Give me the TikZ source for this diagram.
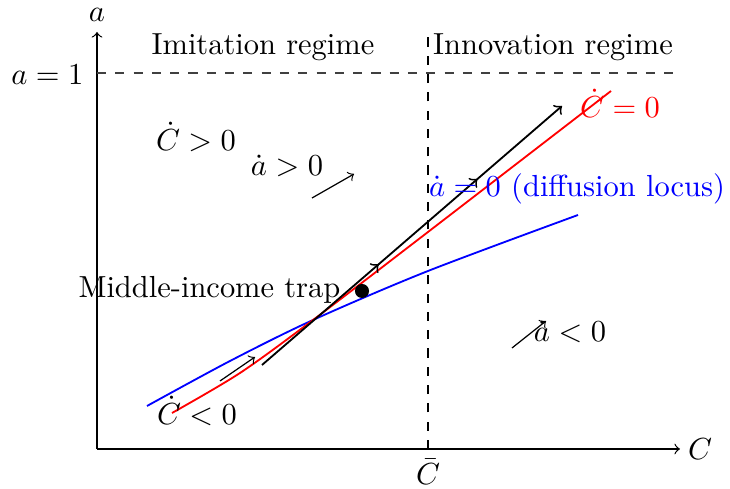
\documentclass[tikz,border=0pt]{standalone}
\usetikzlibrary{decorations.markings}
\begin{document}
\begin{tikzpicture}[x={(0.328pt,0)},y={(0,-0.328pt)},
  lbl/.style={inner sep=1pt},
  curveline/.style={semithick},
  midarrows/.style={postaction={decorate},decoration={markings,
     mark=at position 0.39 with {\arrow{to}},
     mark=at position 0.72 with {\arrow{to}}}}]
\useasboundingbox (0,0) rectangle (730,489);
% axes
\coordinate (O) at (97,449);
\coordinate (xend) at (680,449);
\coordinate (yend) at (97,32);
\draw[->] (O) -- (xend);
\draw[->] (O) -- (yend);
\node[lbl] (alab) at (97,15) {$a$};
\node[lbl] (clab) at (700,449) {$C$};
% a=1 line
\coordinate (a1l) at (97,73);
\coordinate (a1r) at (680,73);
\draw[dashed,black!75] (a1l) -- (a1r);
\node[lbl,anchor=east] (a1lab) at (87,75) {$a=1$};
% Cbar line
\coordinate (cb0) at (428,449);
\coordinate (cb1) at (428,32);
\draw[thick,dashed] (cb0) -- (cb1);
\node[lbl] (cblab) at (428,472) {$\bar C$};
% regimes
\node[lbl] (imit) at (263,47) {Imitation regime};
\node[lbl] (innov) at (553,47) {Innovation regime};
% blue diffusion locus
\draw[blue,curveline] plot[smooth] coordinates {(147,406) (230,361) (313,320) (428,271) (578,215)};
% red Cdot=0
\draw[red,curveline] plot[smooth] coordinates {(172,413) (240,373) (313,320) (428,232) (611,91)};
% trajectory
\coordinate (t0) at (262,365);
\coordinate (t1) at (562,106);
\draw[semithick,->,midarrows] (t0) -- (t1);
% trap
\fill (362,291) circle (2.3pt) coordinate (trap);
\node[lbl,anchor=east] (traplab) at (344,290) {Middle-income trap};
% labels
\node[lbl,red] (cdot0) at (620,103) {$\dot C=0$};
\node[lbl,blue] (adot0) at (577,189) {$\dot a=0$ (diffusion locus)};
\node[lbl] (cpos) at (196,137) {$\dot C>0$};
\node[lbl] (apos) at (287,166) {$\dot a>0$};
\node[lbl] (aneg) at (570,332) {$\dot a<0$};
\node[lbl] (cneg) at (197,411) {$\dot C<0$};
% small arrows
\coordinate (s1a) at (312,198); \coordinate (s1b) at (354,174);
\coordinate (s2a) at (220,381); \coordinate (s2b) at (255,357);
\coordinate (s3a) at (512,348); \coordinate (s3b) at (546,321);
\draw[->] (s1a) -- (s1b);
\draw[->] (s2a) -- (s2b);
\draw[->] (s3a) -- (s3b);
\end{tikzpicture}
\end{document}
